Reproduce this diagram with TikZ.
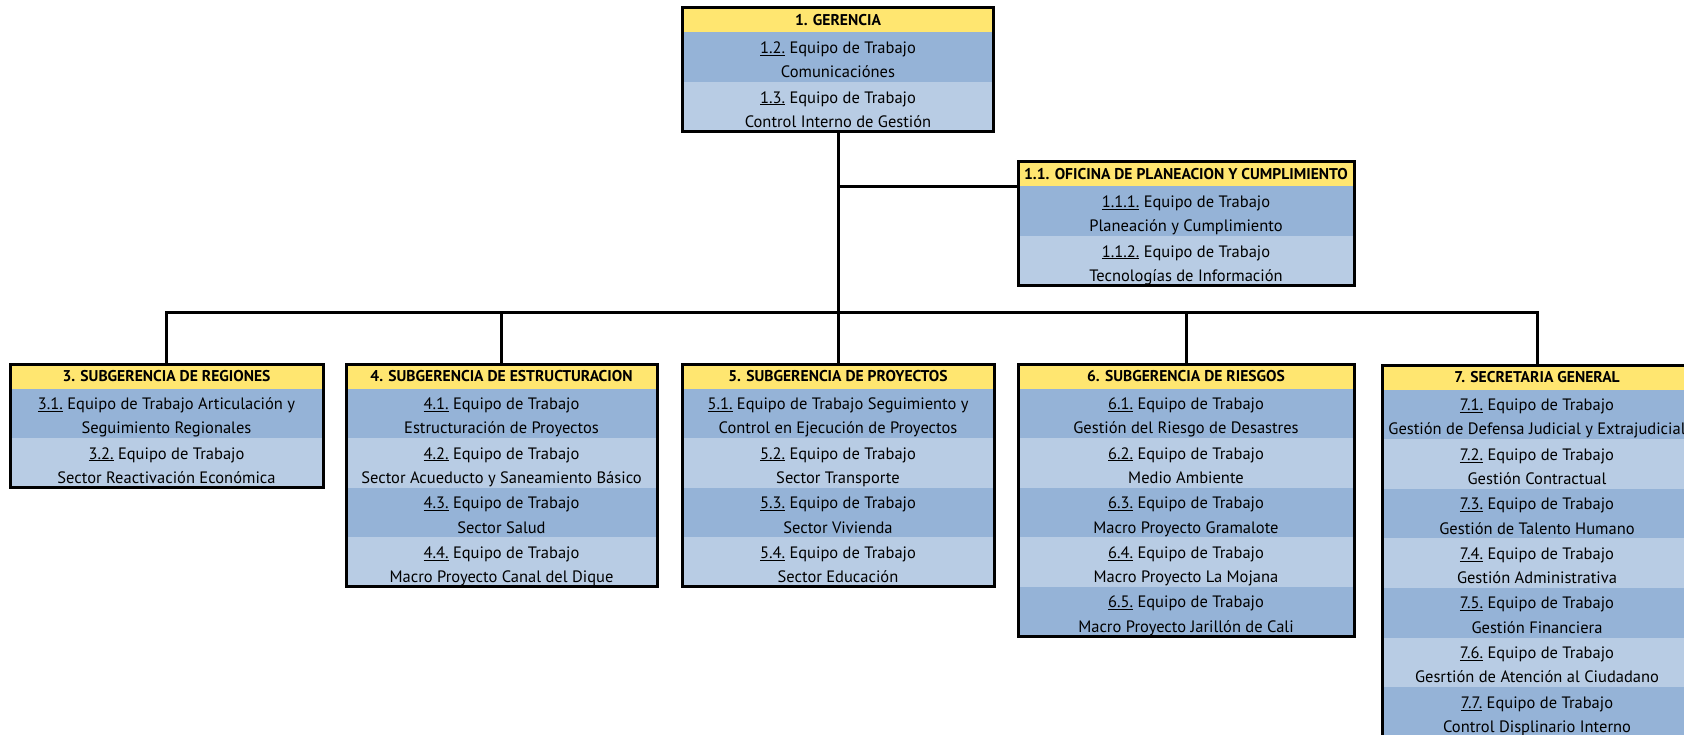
\documentclass[tikz,border=0pt]{standalone}
\usepackage{fontspec}
\setmainfont{PT Sans}
\usepackage{tikz}
\usetikzlibrary{positioning}

\definecolor{headyellow}{HTML}{FFE670}
\definecolor{rowdark}{HTML}{95B3D7}
\definecolor{rowlight}{HTML}{B8CCE4}

% one team row: number, first line, second line
\newcommand{\team}[3]{\rule{0pt}{20.7pt}\underline{#1} #2\\#3\rule[-4pt]{0pt}{4pt}}

\begin{document}
\begin{tikzpicture}[x=1pt, y=-1pt,
    cell/.style = {align=center, inner sep=0pt, outer sep=0pt,
      font=\fontsize{16.5}{24.3}\selectfont},
    head/.style = {cell, fill=headyellow, minimum height=24.5pt,
      font=\fontsize{15.6}{24.3}\selectfont\bfseries},
    dark/.style = {cell, fill=rowdark, minimum height=49.6pt},
    light/.style = {cell, fill=rowlight, minimum height=49.6pt},
    frame/.style = {draw=black, line width=3pt},
    link/.style = {draw=black, line width=3pt}]
    \useasboundingbox (0,0) rectangle (1684,735);

    % 1. gerencia
    \begin{scope}[nodes={minimum width=311pt}]
    \node [head, anchor=north] (ger) at (838,8) {1. GERENCIA};
    \node [dark, below=0pt of ger] (ger2) {\team{1.2.}{Equipo de Trabajo}{Comunicaciónes}};
    \node [light, below=0pt of ger2] (ger3) {\team{1.3.}{Equipo de Trabajo}{Control Interno de Gestión}};
    \end{scope}

    % 1.1 oficina
    \begin{scope}[nodes={minimum width=336pt}]
    \node [head, anchor=north] (ofi) at (1186,162) {1.1. OFICINA DE PLANEACION Y CUMPLIMIENTO};
    \node [dark, below=0pt of ofi] (ofi1) {\team{1.1.1.}{Equipo de Trabajo}{Planeación y Cumplimiento}};
    \node [light, below=0pt of ofi1] (ofi2) {\team{1.1.2.}{Equipo de Trabajo}{Tecnologías de Información}};
    \end{scope}

    % 3. regiones
    \begin{scope}[nodes={minimum width=313pt}]
    \node [head, anchor=north] (reg) at (166.5,364) {3. SUBGERENCIA DE REGIONES};
    \node [dark, below=0pt of reg] (reg1) {\team{3.1.}{Equipo de Trabajo Articulación y}{Seguimiento Regionales}};
    \node [light, below=0pt of reg1] (reg2) {\team{3.2.}{Equipo de Trabajo}{Sector Reactivación Económica}};
    \end{scope}

    % 4. estructuracion
    \begin{scope}[nodes={minimum width=311pt}]
    \node [head, anchor=north] (est) at (501.5,364) {4. SUBGERENCIA DE ESTRUCTURACION};
    \node [dark, below=0pt of est] (est1) {\team{4.1.}{Equipo de Trabajo}{Estructuración de Proyectos}};
    \node [light, below=0pt of est1] (est2) {\team{4.2.}{Equipo de Trabajo}{Sector Acueducto y Saneamiento Básico}};
    \node [dark, below=0pt of est2] (est3) {\team{4.3.}{Equipo de Trabajo}{Sector Salud}};
    \node [light, below=0pt of est3] (est4) {\team{4.4.}{Equipo de Trabajo}{Macro Proyecto Canal del Dique}};
    \end{scope}

    % 5. proyectos
    \begin{scope}[nodes={minimum width=312pt}]
    \node [head, anchor=north] (pro) at (838,364) {5. SUBGERENCIA DE PROYECTOS};
    \node [dark, below=0pt of pro] (pro1) {\team{5.1.}{Equipo de Trabajo Seguimiento y}{Control en Ejecución de Proyectos}};
    \node [light, below=0pt of pro1] (pro2) {\team{5.2.}{Equipo de Trabajo}{Sector Transporte}};
    \node [dark, below=0pt of pro2] (pro3) {\team{5.3.}{Equipo de Trabajo}{Sector Vivienda}};
    \node [light, below=0pt of pro3] (pro4) {\team{5.4.}{Equipo de Trabajo}{Sector Educación}};
    \end{scope}

    % 6. riesgos
    \begin{scope}[nodes={minimum width=336pt}]
    \node [head, anchor=north] (rie) at (1186,364) {6. SUBGERENCIA DE RIESGOS};
    \node [dark, below=0pt of rie] (rie1) {\team{6.1.}{Equipo de Trabajo}{Gestión del Riesgo de Desastres}};
    \node [light, below=0pt of rie1] (rie2) {\team{6.2.}{Equipo de Trabajo}{Medio Ambiente}};
    \node [dark, below=0pt of rie2] (rie3) {\team{6.3.}{Equipo de Trabajo}{Macro Proyecto Gramalote}};
    \node [light, below=0pt of rie3] (rie4) {\team{6.4.}{Equipo de Trabajo}{Macro Proyecto La Mojana}};
    \node [dark, below=0pt of rie4] (rie5) {\team{6.5.}{Equipo de Trabajo}{Macro Proyecto Jarillón de Cali}};
    \end{scope}

    % 7. secretaria
    \begin{scope}[nodes={minimum width=310pt}]
    \node [head, anchor=north] (sec) at (1537,365) {7. SECRETARIA GENERAL};
    \node [dark, below=0pt of sec] (sec1) {\team{7.1.}{Equipo de Trabajo}{Gestión de Defensa Judicial y Extrajudicial}};
    \node [light, below=0pt of sec1] (sec2) {\team{7.2.}{Equipo de Trabajo}{Gestión Contractual}};
    \node [dark, below=0pt of sec2] (sec3) {\team{7.3.}{Equipo de Trabajo}{Gestión de Talento Humano}};
    \node [light, below=0pt of sec3] (sec4) {\team{7.4.}{Equipo de Trabajo}{Gestión Administrativa}};
    \node [dark, below=0pt of sec4] (sec5) {\team{7.5.}{Equipo de Trabajo}{Gestión Financiera}};
    \node [light, below=0pt of sec5] (sec6) {\team{7.6.}{Equipo de Trabajo}{Gesrtión de Atención al Ciudadano}};
    \node [dark, below=0pt of sec6] (sec7) {\team{7.7.}{Equipo de Trabajo}{Control Displinario Interno}};
    \end{scope}

    % connectors
    \coordinate (bus) at (838,313);
    \draw [link] (ger3.south) -- (pro.north);
    \draw [link] (ofi1.north west) -| (ger3.south);
    \draw [link] (reg.north) |- (bus) -| (sec.north);
    \draw [link] (est.north) -- (est.north |- bus);
    \draw [link] (rie.north) -- (rie.north |- bus);

    % frames
    \draw [frame] (ger.north west) rectangle (ger3.south east);
    \draw [frame] (ofi.north west) rectangle (ofi2.south east);
    \draw [frame] (reg.north west) rectangle (reg2.south east);
    \draw [frame] (est.north west) rectangle (est4.south east);
    \draw [frame] (pro.north west) rectangle (pro4.south east);
    \draw [frame] (rie.north west) rectangle (rie5.south east);
    \draw [frame] (sec.north west) rectangle (sec7.south east);
\end{tikzpicture}
\end{document}
